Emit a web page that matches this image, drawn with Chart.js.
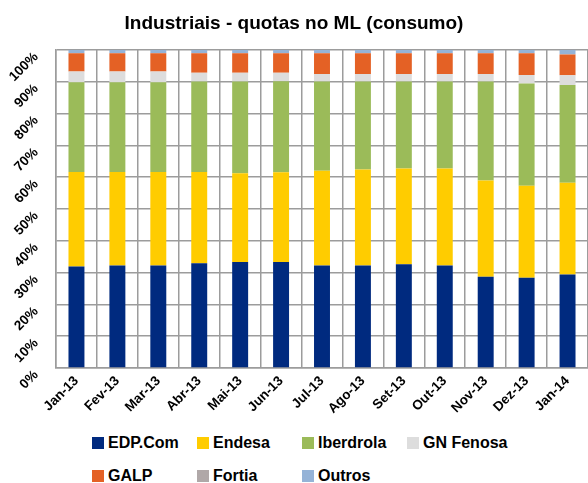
<!DOCTYPE html>
<html lang="pt">
<head>
  <meta charset="UTF-8">
  <title>Industriais - quotas no ML (consumo)</title>
  <script src="https://cdn.jsdelivr.net/npm/chart.js"></script>
  <style>
    body { margin: 0; background: #fff; font-family: "Liberation Sans", Arial, sans-serif; }
    #wrap { position: relative; width: 588px; height: 425px; }
    #legend { display: grid; grid-template-columns: repeat(4, 105px); row-gap: 14px; margin-left: 92px; margin-top: 8px; }
    .item { display: flex; align-items: center; font-weight: bold; font-size: 16px; color: #000; height: 19px; }
    .box { width: 12px; height: 12px; margin-right: 4px; }
  </style>
</head>
<body>

<div id="wrap"><canvas id="chart" width="588" height="425"></canvas></div>
<div id="legend"></div>

<script>
// months
const months = ['Jan-13','Fev-13','Mar-13','Abr-13','Mai-13','Jun-13','Jul-13','Ago-13','Set-13','Out-13','Nov-13','Dez-13','Jan-14'];

// market shares (%)
const edp       = [31.9, 32.2, 32.2, 32.9, 33.3, 33.3, 32.2, 32.2, 32.6, 32.2, 28.7, 28.4, 29.4];
const endesa    = [29.7, 29.4, 29.4, 28.7, 27.9, 28.2, 29.8, 30.2, 30.1, 30.5, 30.2, 28.9, 28.8];
const iberdrola = [28.2, 28.2, 28.2, 28.4, 28.8, 28.6, 28.0, 27.6, 27.3, 27.3, 31.1, 32.1, 30.7];
const gnFenosa  = [3.4, 3.4, 3.4, 2.8, 2.8, 2.7, 2.4, 2.4, 2.4, 2.4, 2.4, 2.7, 3.1];
const galp      = [5.7, 5.7, 5.7, 6.1, 6.1, 6.1, 6.5, 6.5, 6.5, 6.5, 6.5, 6.8, 6.5];
const fortia    = [0.1, 0.1, 0.1, 0.1, 0.1, 0.1, 0.1, 0.1, 0.1, 0.1, 0.1, 0.1, 0.1];
const outros    = [1.0, 1.0, 1.0, 1.0, 1.0, 1.0, 1.0, 1.0, 1.0, 1.0, 1.0, 1.0, 1.4];

const yTicks = [0, 10, 20, 30, 40, 50, 60, 70, 80, 90, 100];

const series = [
  { label: 'EDP.Com',   data: edp,       color: '#002a7f' },
  { label: 'Endesa',    data: endesa,    color: '#ffcc00' },
  { label: 'Iberdrola', data: iberdrola, color: '#9bbb59' },
  { label: 'GN Fenosa', data: gnFenosa,  color: '#dddddd' },
  { label: 'GALP',      data: galp,      color: '#e46125' },
  { label: 'Fortia',    data: fortia,    color: '#b0a8a8' },
  { label: 'Outros',    data: outros,    color: '#95b3d7' }
];

const font = "'Liberation Sans', Arial, sans-serif";

// y labels are drawn slanted like the excel original
const slantedYLabels = {
  id: 'slantedYLabels',
  afterDraw(chart) {
    const ctx = chart.ctx;
    const y = chart.scales.y;
    ctx.save();
    ctx.fillStyle = '#000';
    ctx.font = 'bold 13.5px ' + font;
    ctx.textAlign = 'right';
    ctx.textBaseline = 'middle';
    yTicks.forEach(v => {
      ctx.save();
      ctx.translate(y.left + 36, y.getPixelForValue(v) + 5);
      ctx.rotate(-Math.PI / 4);
      ctx.fillText(v + '%', 0, 0);
      ctx.restore();
    });
    ctx.restore();
  }
};

const chart = new Chart(document.getElementById('chart'), {
  type: 'bar',
  data: {
    labels: months,
    datasets: series.map(s => ({
      label: s.label,
      data: s.data,
      backgroundColor: s.color,
      borderWidth: 0,
      barPercentage: 0.39,
      categoryPercentage: 1
    }))
  },
  options: {
    responsive: false,
    animation: false,
    layout: { padding: 0 },
    plugins: {
      legend: { display: false },
      tooltip: { enabled: false },
      title: {
        display: true,
        text: 'Industriais - quotas no ML (consumo)',
        color: '#000',
        font: { family: font, size: 19, weight: 'bold' },
        padding: { top: 12, bottom: 15 }
      }
    },
    scales: {
      x: {
        stacked: true,
        afterFit: s => { s.height = 57; },
        grid: { color: '#9c9c9c', lineWidth: 1.5, offset: true, drawTicks: false },
        border: { color: '#9c9c9c', width: 1.5 },
        ticks: {
          color: '#000',
          font: { family: font, size: 13.5, weight: 'bold' },
          minRotation: 45, maxRotation: 45, padding: 5
        }
      },
      y: {
        stacked: true,
        min: 0, max: 100,
        afterBuildTicks: s => { s.ticks = yTicks.map(v => ({ value: v })); },
        afterFit: s => { s.width = 56; },
        grid: { color: '#9c9c9c', lineWidth: 1.5, drawTicks: false },
        border: { color: '#9c9c9c', width: 1.5 },
        ticks: { display: false }
      }
    }
  },
  plugins: [slantedYLabels]
});

// legend
const legend = document.getElementById('legend');
series.forEach(s => {
  const el = document.createElement('div');
  el.className = 'item';
  el.innerHTML = '<span class="box" style="background:' + s.color + '"></span>' + s.label;
  legend.appendChild(el);
});
</script>

</body>
</html>
